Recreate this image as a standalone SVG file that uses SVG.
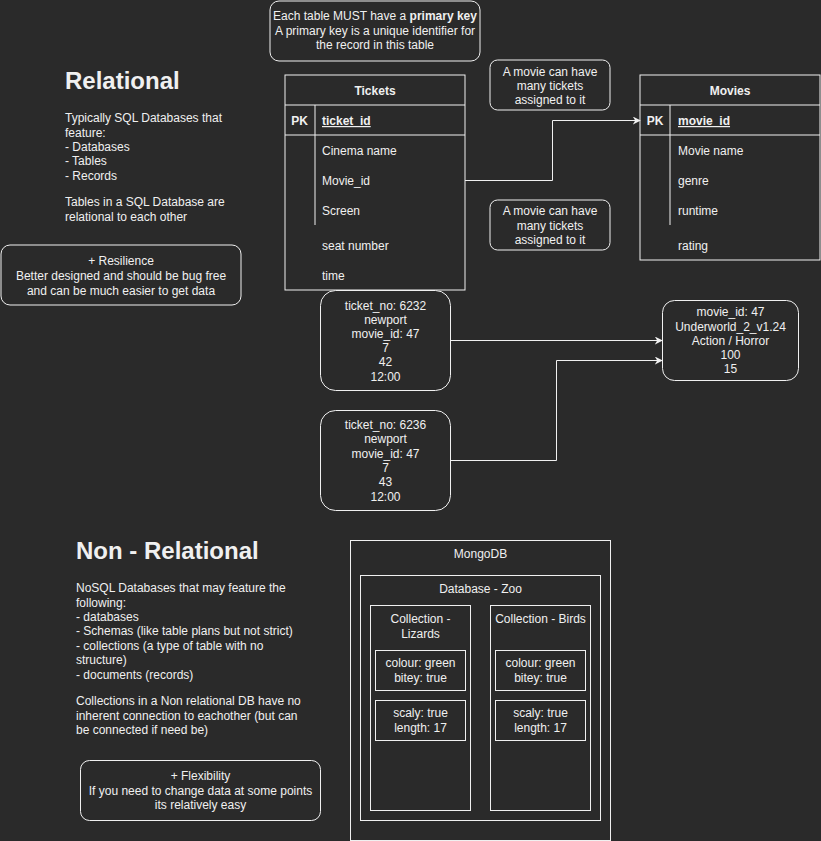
<svg xmlns="http://www.w3.org/2000/svg" width="821" height="841" viewBox="0 0 821 841">
<defs>
<style>
text{font-family:"Liberation Sans",Arial,Helvetica,sans-serif;font-size:12px;fill:#f0f0f0}
.c{text-anchor:middle}
.b{font-weight:bold}
.t{font-size:24px;font-weight:bold}
.u{text-decoration:underline}
.box{fill:#2a2a2a;stroke:#f0f0f0;stroke-width:1}
.ln{fill:none;stroke:#f0f0f0;stroke-width:1}
.edge{fill:none;stroke:#f0f0f0;stroke-width:1;marker-end:url(#arr)}
</style>
<marker id="arr" viewBox="0 0 10 10" refX="9" refY="5" markerWidth="8" markerHeight="8" orient="auto" markerUnits="userSpaceOnUse">
<path d="M0,0 L10,5 L0,10 L3,5 Z" fill="#f0f0f0"/>
</marker>
</defs>
<rect x="0" y="0" width="821" height="841" fill="#2a2a2a"/>

<g id="title-relational">
<text class="t" x="65" y="89">Relational</text>
</g>
<g id="relational-text">
<text x="65" y="122">Typically SQL Databases that</text>
<text x="65" y="136.5">feature:</text>
<text x="65" y="151">- Databases</text>
<text x="65" y="165">- Tables</text>
<text x="65" y="179.5">- Records</text>
<text x="65" y="206">Tables in a SQL Database are</text>
<text x="65" y="220.5">relational to each other</text>
</g>
<g id="resilience">
<rect class="box" x="1" y="245" width="240" height="60" rx="9"/>
<text class="c" x="121" y="265">+ Resilience</text>
<text class="c" x="121" y="280">Better designed and should be bug free</text>
<text class="c" x="121" y="294.5">and can be much easier to get data</text>
</g>

<g id="pk-note">
<rect class="box" x="270" y="1" width="210" height="60" rx="9"/>
<text class="c" x="375" y="20">Each table MUST have a <tspan class="b">primary key</tspan></text>
<text class="c" x="375" y="34.5">A primary key is a unique identifier for</text>
<text class="c" x="375" y="49">the record in this table</text>
</g>

<g id="tickets">
<rect class="box" x="285" y="75" width="180" height="215"/>
<line class="ln" x1="285" y1="105" x2="465" y2="105"/>
<line class="ln" x1="285" y1="135" x2="465" y2="135"/>
<line class="ln" x1="315" y1="105" x2="315" y2="225"/>
<text class="c b" x="375" y="95">Tickets</text>
<text class="c b" x="299.5" y="125">PK</text>
<text class="b u" x="322" y="125">ticket_id</text>
<text x="322" y="155">Cinema name</text>
<text x="322" y="185">Movie_id</text>
<text x="322" y="215">Screen</text>
<text x="322" y="250">seat number</text>
<text x="322" y="280">time</text>
</g>

<g id="note-1">
<rect class="box" x="490" y="60" width="120" height="50" rx="7.5"/>
<text class="c" x="550" y="75.5">A movie can have</text>
<text class="c" x="550" y="90">many tickets</text>
<text class="c" x="550" y="104">assigned to it</text>
</g>
<g id="note-2">
<rect class="box" x="490" y="200" width="120" height="50" rx="7.5"/>
<text class="c" x="550" y="215">A movie can have</text>
<text class="c" x="550" y="230">many tickets</text>
<text class="c" x="550" y="243.5">assigned to it</text>
</g>

<g id="movies">
<rect class="box" x="640" y="75" width="180" height="185"/>
<line class="ln" x1="640" y1="105" x2="820" y2="105"/>
<line class="ln" x1="640" y1="135" x2="820" y2="135"/>
<line class="ln" x1="670" y1="105" x2="670" y2="225"/>
<text class="c b" x="730" y="95">Movies</text>
<text class="c b" x="655" y="125">PK</text>
<text class="b u" x="678" y="125">movie_id</text>
<text x="678" y="155">Movie name</text>
<text x="678" y="185">genre</text>
<text x="678" y="215">runtime</text>
<text x="678" y="250">rating</text>
</g>

<g id="ticket-6232">
<rect class="box" x="320.5" y="290.5" width="130" height="100" rx="15"/>
<text class="c" x="385.5" y="309.5">ticket_no: 6232</text>
<text class="c" x="385.5" y="323.5">newport</text>
<text class="c" x="385.5" y="337.5">movie_id: 47</text>
<text class="c" x="385.5" y="352">7</text>
<text class="c" x="385.5" y="366">42</text>
<text class="c" x="385.5" y="380.5">12:00</text>
</g>
<g id="ticket-6236">
<rect class="box" x="320.5" y="410.5" width="130" height="100" rx="15"/>
<text class="c" x="385.5" y="429">ticket_no: 6236</text>
<text class="c" x="385.5" y="443">newport</text>
<text class="c" x="385.5" y="457.5">movie_id: 47</text>
<text class="c" x="385.5" y="471.5">7</text>
<text class="c" x="385.5" y="486">43</text>
<text class="c" x="385.5" y="500.5">12:00</text>
</g>
<g id="movie-47">
<rect class="box" x="662.5" y="300.5" width="136" height="80" rx="12"/>
<text class="c" x="730.5" y="316">movie_id: 47</text>
<text class="c" x="730.5" y="330.5">Underworld_2_v1.24</text>
<text class="c" x="730.5" y="345">Action / Horror</text>
<text class="c" x="730.5" y="359">100</text>
<text class="c" x="730.5" y="373">15</text>
</g>

<g id="connectors">
<path class="edge" d="M465,180.5 H552.5 V120.5 H640"/>
<path class="edge" d="M450.5,340.5 H662"/>
<path class="edge" d="M450.5,460.5 H556.5 V360.5 H662"/>
</g>

<g id="title-nonrelational">
<text class="t" x="76" y="559">Non - Relational</text>
</g>
<g id="nonrelational-text">
<text x="76" y="592">NoSQL Databases that may feature the</text>
<text x="76" y="606.5">following:</text>
<text x="76" y="621">- databases</text>
<text x="76" y="635">- Schemas (like table plans but not strict)</text>
<text x="76" y="649.5">- collections (a type of table with no</text>
<text x="76" y="663.5">structure)</text>
<text x="76" y="679">- documents (records)</text>
<text x="76" y="705">Collections in a Non relational DB have no</text>
<text x="76" y="719.5">inherent connection to eachother (but can</text>
<text x="76" y="734">be connected if need be)</text>
</g>
<g id="flexibility">
<rect class="box" x="80.5" y="760.5" width="240" height="60" rx="9"/>
<text class="c" x="200.5" y="780">+ Flexibility</text>
<text class="c" x="200.5" y="794.5">If you need to change data at some points</text>
<text class="c" x="200.5" y="809">its relatively easy</text>
</g>

<g id="mongodb">
<rect class="box" x="350.5" y="540.5" width="260" height="300"/>
<text class="c" x="480.5" y="558">MongoDB</text>
</g>
<g id="database-zoo">
<rect class="box" x="360.5" y="575.5" width="240" height="245"/>
<text class="c" x="480.5" y="593">Database - Zoo</text>
</g>
<g id="collection-lizards">
<rect class="box" x="370.5" y="605.5" width="100" height="205"/>
<text class="c" x="420.5" y="623">Collection -</text>
<text class="c" x="420.5" y="638">Lizards</text>
</g>
<g id="lizard-doc-1">
<rect class="box" x="375.5" y="650.5" width="90" height="40"/>
<text class="c" x="420.5" y="667">colour: green</text>
<text class="c" x="420.5" y="682">bitey: true</text>
</g>
<g id="lizard-doc-2">
<rect class="box" x="375.5" y="700.5" width="90" height="40"/>
<text class="c" x="420.5" y="717">scaly: true</text>
<text class="c" x="420.5" y="732">length: 17</text>
</g>
<g id="collection-birds">
<rect class="box" x="490.5" y="605.5" width="100" height="205"/>
<text class="c" x="540.5" y="623">Collection - Birds</text>
</g>
<g id="bird-doc-1">
<rect class="box" x="495.5" y="650.5" width="90" height="40"/>
<text class="c" x="540.5" y="667">colour: green</text>
<text class="c" x="540.5" y="682">bitey: true</text>
</g>
<g id="bird-doc-2">
<rect class="box" x="495.5" y="700.5" width="90" height="40"/>
<text class="c" x="540.5" y="717">scaly: true</text>
<text class="c" x="540.5" y="732">length: 17</text>
</g>
</svg>
